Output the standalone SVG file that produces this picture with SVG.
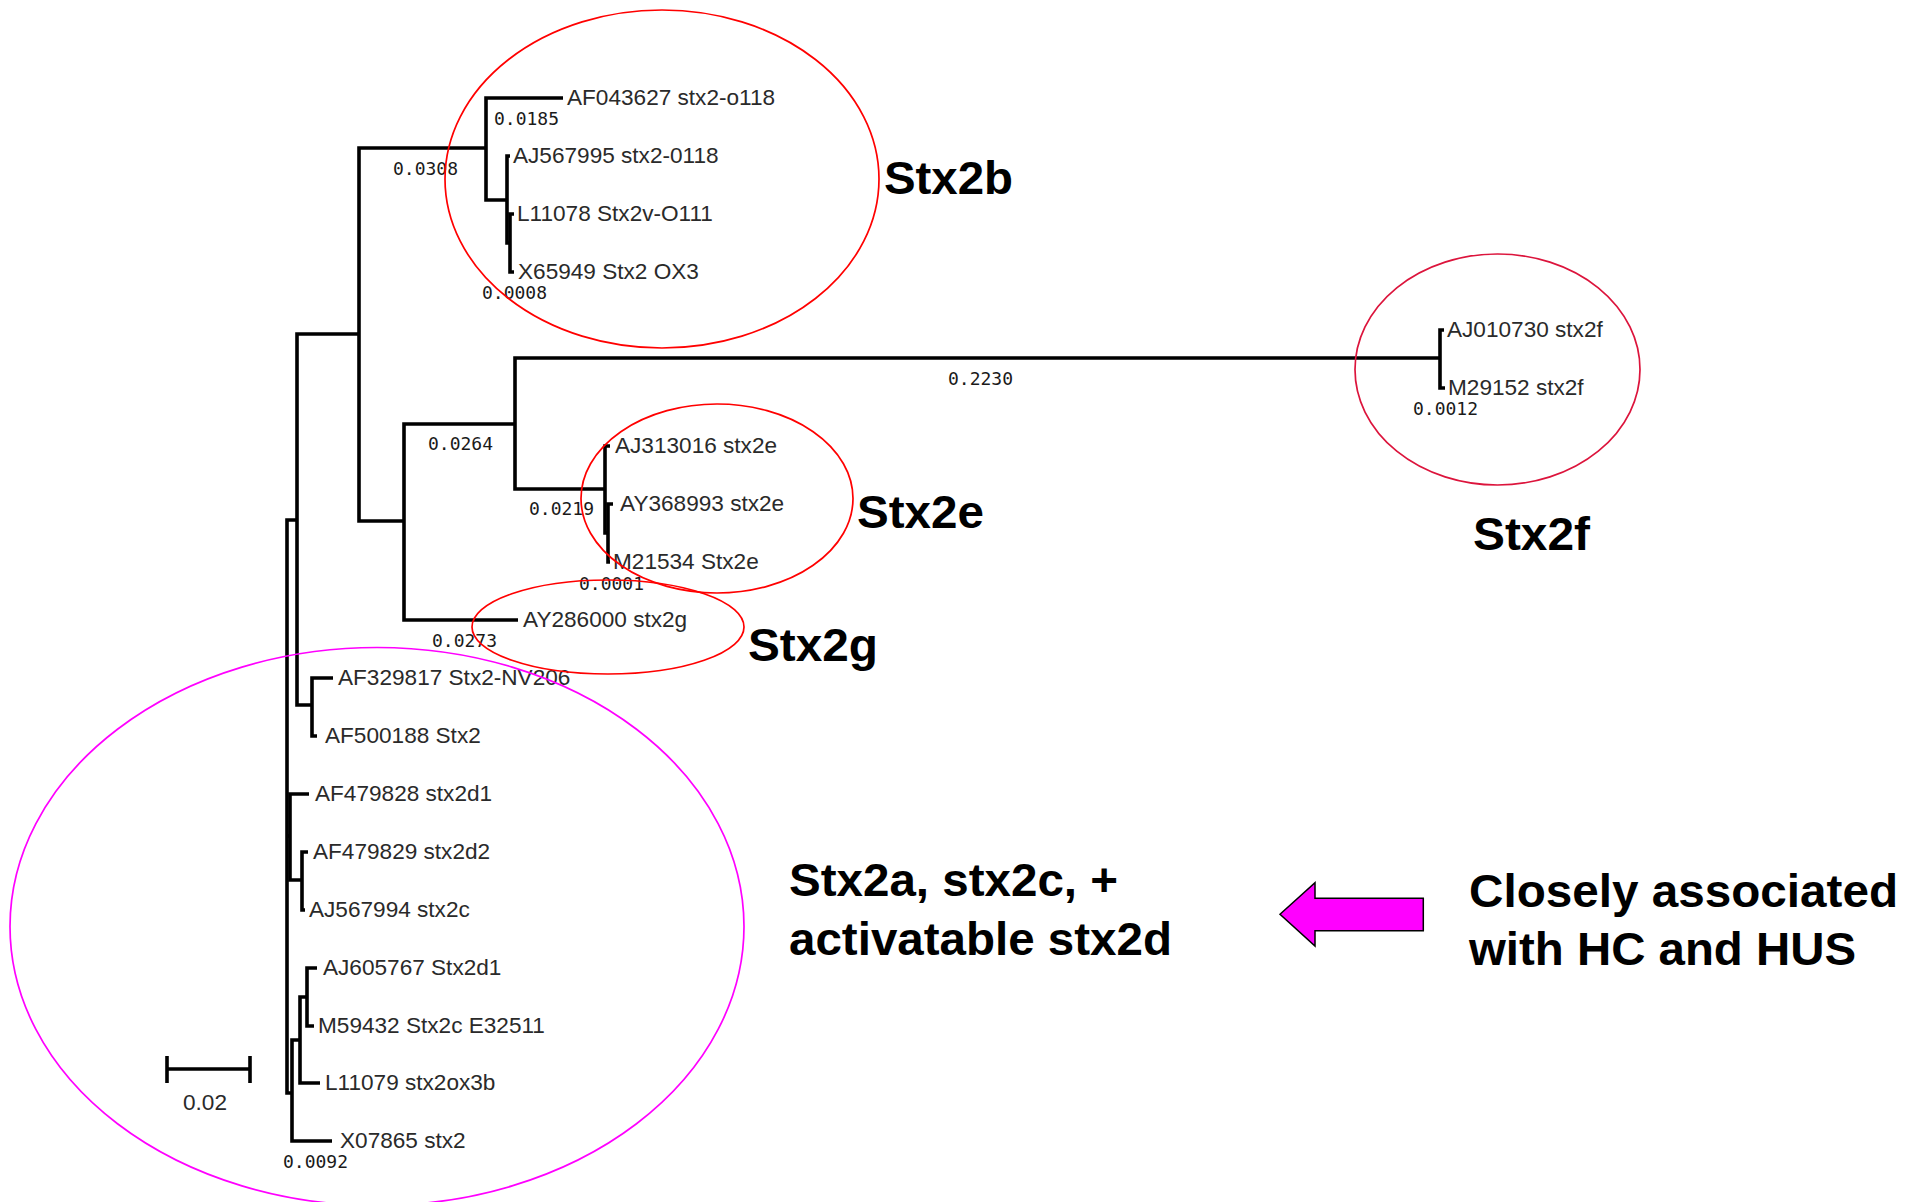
<svg xmlns="http://www.w3.org/2000/svg" width="1910" height="1202" viewBox="0 0 1910 1202">
  <style>
    .br { fill: none; stroke: #000; stroke-width: 3.6; stroke-linejoin: miter; stroke-linecap: butt; }
    .leaf { font-family: "Liberation Sans", Arial, sans-serif; font-size: 22.6px; fill: #2a2a2a; }
    .len { font-family: "DejaVu Sans Mono", "Liberation Mono", monospace; font-size: 18px; fill: #1a1a1a; }
    .big { font-family: "Liberation Sans", Arial, sans-serif; font-size: 46px; font-weight: bold; fill: #000; }
    .hl-red { fill: none; stroke: #ff0000; stroke-width: 1.7; }
    .hl-crimson { fill: none; stroke: #dc143c; stroke-width: 1.7; }
    .hl-magenta { fill: none; stroke: #ff00ff; stroke-width: 1.7; }
  </style>
  <rect width="1910" height="1202" fill="#fff"/>

  <!-- tree branches (rectangular cladogram) -->
  <g id="branches">
    <!-- Stx2b clade -->
    <path class="br" d="M563,98 H486 V200 H507"/>
    <path class="br" d="M510,156 H507 V243 H510"/>
    <path class="br" d="M514,214 H510 V272 H514"/>
    <path class="br" d="M486,148 H359 V521 H404"/>
    <!-- Stx2e / Stx2f / Stx2g -->
    <path class="br" d="M515,424 H404 V620 H518"/>
    <path class="br" d="M1440,358 H515 V489 H605"/>
    <path class="br" d="M1444,330 H1440 V388 H1445"/>
    <path class="br" d="M610,446 H605 V533 H608"/>
    <path class="br" d="M613,504 H608 V562 H610"/>
    <!-- stx2a / stx2c / stx2d group -->
    <path class="br" d="M359,334 H297 V705 H312"/>
    <path class="br" d="M333,678 H312 V736 H317"/>
    <path class="br" d="M297,520 H287 V1093 H292"/>
    <path class="br" d="M287,836 H290"/>
    <path class="br" d="M309,794 H290 V880 H302"/>
    <path class="br" d="M308,852 H302 V910 H305"/>
    <path class="br" d="M300,1040 H292 V1141 H332"/>
    <path class="br" d="M307,997 H300 V1083 H320"/>
    <path class="br" d="M317,968 H307 V1026 H314"/>
  </g>

  <!-- branch lengths -->
  <g id="branch-lengths">
    <text class="len" x="494" y="125">0.0185</text>
    <text class="len" x="393" y="175">0.0308</text>
    <text class="len" x="482" y="299">0.0008</text>
    <text class="len" x="948" y="385">0.2230</text>
    <text class="len" x="1413" y="415">0.0012</text>
    <text class="len" x="428" y="450">0.0264</text>
    <text class="len" x="529" y="515">0.0219</text>
    <text class="len" x="579" y="590">0.0001</text>
    <text class="len" x="432" y="647">0.0273</text>
    <text class="len" x="283" y="1168">0.0092</text>
  </g>

  <!-- leaves -->
  <g id="leaf-AF043627"><text class="leaf" x="567" y="105">AF043627 stx2-o118</text></g>
  <g id="leaf-AJ567995"><text class="leaf" x="513" y="163">AJ567995 stx2-0118</text></g>
  <g id="leaf-L11078"><text class="leaf" x="517" y="221">L11078 Stx2v-O111</text></g>
  <g id="leaf-X65949"><text class="leaf" x="518" y="279">X65949 Stx2 OX3</text></g>
  <g id="leaf-AJ010730"><text class="leaf" x="1447" y="337">AJ010730 stx2f</text></g>
  <g id="leaf-M29152"><text class="leaf" x="1448" y="395">M29152 stx2f</text></g>
  <g id="leaf-AJ313016"><text class="leaf" x="615" y="453">AJ313016 stx2e</text></g>
  <g id="leaf-AY368993"><text class="leaf" x="620" y="511">AY368993 stx2e</text></g>
  <g id="leaf-M21534"><text class="leaf" x="613" y="569">M21534 Stx2e</text></g>
  <g id="leaf-AY286000"><text class="leaf" x="523" y="627">AY286000 stx2g</text></g>
  <g id="leaf-AF329817"><text class="leaf" x="338" y="685">AF329817 Stx2-NV206</text></g>
  <g id="leaf-AF500188"><text class="leaf" x="325" y="743">AF500188 Stx2</text></g>
  <g id="leaf-AF479828"><text class="leaf" x="315" y="801">AF479828 stx2d1</text></g>
  <g id="leaf-AF479829"><text class="leaf" x="313" y="859">AF479829 stx2d2</text></g>
  <g id="leaf-AJ567994"><text class="leaf" x="309" y="917">AJ567994 stx2c</text></g>
  <g id="leaf-AJ605767"><text class="leaf" x="323" y="975">AJ605767 Stx2d1</text></g>
  <g id="leaf-M59432"><text class="leaf" x="318" y="1033">M59432 Stx2c E32511</text></g>
  <g id="leaf-L11079"><text class="leaf" x="325" y="1090">L11079 stx2ox3b</text></g>
  <g id="leaf-X07865"><text class="leaf" x="340" y="1148">X07865 stx2</text></g>

  <!-- scale bar -->
  <g id="scale-bar">
    <path class="br" d="M167,1056 V1083 M167,1069 H250 M250,1056 V1083"/>
    <text class="leaf" x="205" y="1110" text-anchor="middle">0.02</text>
  </g>

  <!-- clade highlights -->
  <g id="clade-stx2b">
    <ellipse class="hl-red" cx="662" cy="179" rx="217" ry="169"/>
    <text class="big" x="884" y="194" textLength="129" lengthAdjust="spacingAndGlyphs">Stx2b</text>
  </g>
  <g id="clade-stx2f">
    <ellipse class="hl-crimson" cx="1497.5" cy="369.5" rx="142.5" ry="115.5"/>
    <text class="big" x="1473" y="550" textLength="117" lengthAdjust="spacingAndGlyphs">Stx2f</text>
  </g>
  <g id="clade-stx2e">
    <ellipse class="hl-red" cx="717" cy="498.5" rx="136" ry="94.5"/>
    <text class="big" x="857" y="528" textLength="127" lengthAdjust="spacingAndGlyphs">Stx2e</text>
  </g>
  <g id="clade-stx2g">
    <ellipse class="hl-red" cx="608" cy="627" rx="136" ry="47"/>
    <text class="big" x="748" y="661" textLength="130" lengthAdjust="spacingAndGlyphs">Stx2g</text>
  </g>
  <g id="clade-stx2acd">
    <ellipse class="hl-magenta" cx="377" cy="926.5" rx="367" ry="279"/>
    <text class="big" x="789" y="896" textLength="329" lengthAdjust="spacingAndGlyphs">Stx2a, stx2c, +</text>
    <text class="big" x="789" y="955" textLength="383" lengthAdjust="spacingAndGlyphs">activatable stx2d</text>
  </g>

  <!-- annotation -->
  <g id="annotation-hc-hus">
    <path d="M1280,914.3 L1315,882.7 V898.3 H1423.3 V930.7 H1315 V946 Z" fill="#ff00ff" stroke="#000" stroke-width="1.5" stroke-linejoin="miter"/>
    <text class="big" x="1469" y="907" textLength="429" lengthAdjust="spacingAndGlyphs">Closely associated</text>
    <text class="big" x="1469" y="965" textLength="387" lengthAdjust="spacingAndGlyphs">with HC and HUS</text>
  </g>
</svg>
